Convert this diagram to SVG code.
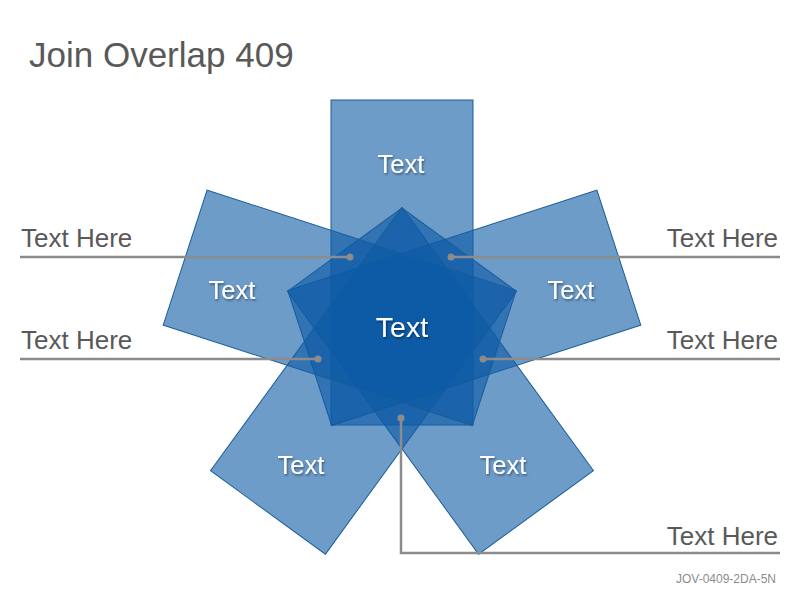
<svg xmlns="http://www.w3.org/2000/svg" width="800" height="600" viewBox="0 0 800 600">
<defs>
<style>
.petal{fill:#0b5aa5;fill-opacity:0.6;stroke:#1a5d9a;stroke-width:1}
.wt{font-family:"Liberation Sans",Arial,sans-serif;fill:#ffffff;text-anchor:middle;filter:url(#sh)}
.lbl{font-family:"Liberation Sans",Arial,sans-serif;fill:#595959;font-size:26px}
.ln{fill:none;stroke:#8c8c8c;stroke-width:2.5}
.dot{fill:#8c8c8c}
</style>
<filter id="sh" x="-20%" y="-20%" width="140%" height="160%">
<feDropShadow dx="1" dy="1.5" stdDeviation="1" flood-color="#000" flood-opacity="0.45"/>
</filter>
</defs>
<rect width="800" height="600" fill="#ffffff"/>
<text x="29" y="67" font-family="'Liberation Sans',Arial,sans-serif" font-size="35" fill="#595959">Join Overlap 409</text>
<g id="petals">
<g id="petal-top"><rect class="petal" x="331" y="100" width="142" height="325"/></g>
<g id="petal-upper-right"><rect class="petal" x="331" y="100" width="142" height="325" transform="rotate(72 402 328)"/></g>
<g id="petal-lower-right"><rect class="petal" x="331" y="100" width="142" height="325" transform="rotate(144 402 328)"/></g>
<g id="petal-lower-left"><rect class="petal" x="331" y="100" width="142" height="325" transform="rotate(216 402 328)"/></g>
<g id="petal-upper-left"><rect class="petal" x="331" y="100" width="142" height="325" transform="rotate(288 402 328)"/></g>
</g>
<g id="petal-texts">
<text class="wt" x="401" y="173" font-size="25.5">Text</text>
<text class="wt" x="571" y="299" font-size="25.5">Text</text>
<text class="wt" x="232" y="299" font-size="25.5">Text</text>
<text class="wt" x="301" y="474" font-size="25.5">Text</text>
<text class="wt" x="503" y="474" font-size="25.5">Text</text>
<text id="center" class="wt" x="402" y="337" font-size="28.5">Text</text>
</g>
<g id="connectors">
<polyline class="ln" points="20,257 350,257"/>
<polyline class="ln" points="20,359 318,359"/>
<polyline class="ln" points="451,257 780,257"/>
<polyline class="ln" points="483,359 780,359"/>
<polyline class="ln" points="401,418 401,553 780,553"/>
<circle class="dot" cx="350" cy="257" r="3.5"/>
<circle class="dot" cx="318" cy="359" r="3.5"/>
<circle class="dot" cx="451" cy="257" r="3.5"/>
<circle class="dot" cx="483" cy="359" r="3.5"/>
<circle class="dot" cx="401" cy="418" r="3.5"/>
</g>
<g id="labels">
<text class="lbl" x="21" y="247">Text Here</text>
<text class="lbl" x="21" y="349">Text Here</text>
<text class="lbl" x="778" y="247" text-anchor="end">Text Here</text>
<text class="lbl" x="778" y="349" text-anchor="end">Text Here</text>
<text class="lbl" x="778" y="545" text-anchor="end">Text Here</text>
</g>
<text x="776" y="583" text-anchor="end" font-family="'Liberation Sans',Arial,sans-serif" font-size="12" fill="#8c8c8c">JOV-0409-2DA-5N</text>
</svg>
